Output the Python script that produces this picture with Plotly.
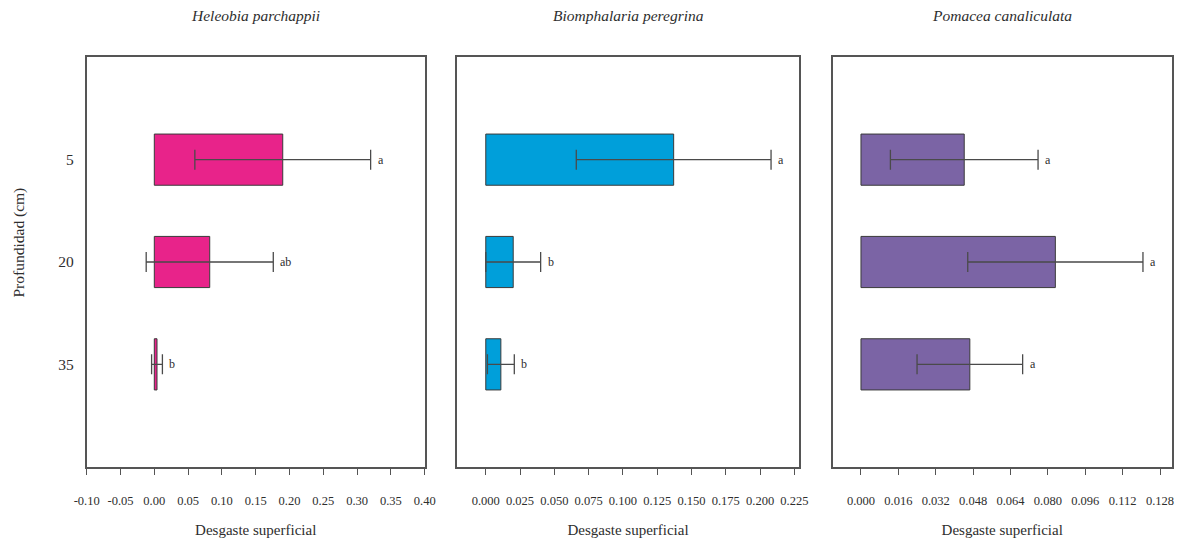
import plotly.graph_objects as go

depths = ["5", "20", "35"]
species = ["Heleobia parchappii", "Biomphalaria peregrina", "Pomacea canaliculata"]

heleobia_mean = [0.190, 0.082, 0.004]
heleobia_err = [0.130, 0.094, 0.008]
heleobia_letters = ["a", "ab", "b"]

biomph_mean = [0.137, 0.020, 0.011]
biomph_err = [0.071, 0.020, 0.0098]
biomph_letters = ["a", "b", "b"]

pomacea_mean = [0.0442, 0.0832, 0.0466]
pomacea_err = [0.0316, 0.0375, 0.0226]
pomacea_letters = ["a", "a", "a"]

colors = ["#E8238A", "#009FDA", "#7B64A5"]
x_ranges = [[-0.10, 0.40], [-0.0212, 0.2286], [-0.0121, 0.133]]
x_ticks = [
    [-0.10, -0.05, 0.00, 0.05, 0.10, 0.15, 0.20, 0.25, 0.30, 0.35, 0.40],
    [0.000, 0.025, 0.050, 0.075, 0.100, 0.125, 0.150, 0.175, 0.200, 0.225],
    [0.000, 0.016, 0.032, 0.048, 0.064, 0.080, 0.096, 0.112, 0.128],
]
tick_fmt = [".2f", ".3f", ".3f"]

W, H = 1184, 544
x_domains = [[86.7 / W, 424.7 / W], [456.7 / W, 799.3 / W], [832.7 / W, 1171.7 / W]]
y_domain = [(H - 466.7) / H, (H - 57.3) / H]

means = [heleobia_mean, biomph_mean, pomacea_mean]
errs = [heleobia_err, biomph_err, pomacea_err]
letters = [heleobia_letters, biomph_letters, pomacea_letters]

serif = "Liberation Serif, Times New Roman, serif"
axis_col = "#555555"
txt_col = "#2e2e2e"

fig = go.Figure()
annotations = []
for i in range(3):
    xa = "x" if i == 0 else f"x{i+1}"
    ya = "y" if i == 0 else f"y{i+1}"
    fig.add_trace(go.Bar(
        x=means[i], y=depths, orientation="h", width=0.5,
        marker=dict(color=colors[i], line=dict(color="#3a3a3a", width=1)),
        error_x=dict(type="data", array=errs[i], color="#4a4a4a", thickness=1.3, width=10),
        xaxis=xa, yaxis=ya, showlegend=False,
    ))
    for k, (m, e, lt) in enumerate(zip(means[i], errs[i], letters[i])):
        annotations.append(dict(
            x=m + e, y=k, xref=xa, yref=ya, text=lt, showarrow=False,
            xanchor="left", yanchor="middle", xshift=5,
            font=dict(family=serif, size=12, color=txt_col),
        ))
    annotations.append(dict(
        x=(x_domains[i][0] + x_domains[i][1]) / 2, y=(H - 15) / H,
        xref="paper", yref="paper", text=f"<i>{species[i]}</i>", showarrow=False,
        xanchor="center", yanchor="middle",
        font=dict(family=serif, size=15.5, color=txt_col),
    ))
    ax_key = "xaxis" if i == 0 else f"xaxis{i+1}"
    ay_key = "yaxis" if i == 0 else f"yaxis{i+1}"
    fig.layout[ax_key] = dict(
        domain=x_domains[i], range=x_ranges[i], anchor=ya, automargin=False,
        tickvals=x_ticks[i], ticktext=[format(v, tick_fmt[i]) for v in x_ticks[i]],
        ticks="outside", ticklen=7, tickcolor=axis_col, tickwidth=1.3,
        ticklabelstandoff=15,
        showline=True, linecolor=axis_col, linewidth=1.5, mirror=True,
        showgrid=False, zeroline=False,
        tickfont=dict(family=serif, size=12.5, color=txt_col),
        title=dict(text="Desgaste superficial", standoff=17,
                   font=dict(family=serif, size=15, color=txt_col)),
    )
    fig.layout[ay_key] = dict(
        domain=y_domain, anchor=xa, type="category", automargin=False,
        categoryorder="array", categoryarray=depths, range=[3, -1],
        showline=True, linecolor=axis_col, linewidth=1.5, mirror=True,
        showgrid=False, zeroline=False, ticks="",
        showticklabels=(i == 0), ticklabelstandoff=8,
        tickfont=dict(family=serif, size=15.5, color=txt_col),
    )

annotations.append(dict(
    x=18.5 / W, y=(H - 243) / H, xref="paper", yref="paper",
    text="Profundidad (cm)", textangle=-90, showarrow=False,
    xanchor="center", yanchor="middle",
    font=dict(family=serif, size=15.5, color=txt_col),
))

fig.update_layout(
    width=W, height=H, margin=dict(l=0, r=0, t=0, b=0),
    paper_bgcolor="white", plot_bgcolor="white",
    annotations=annotations,
)
fig.write_html("out.html")
